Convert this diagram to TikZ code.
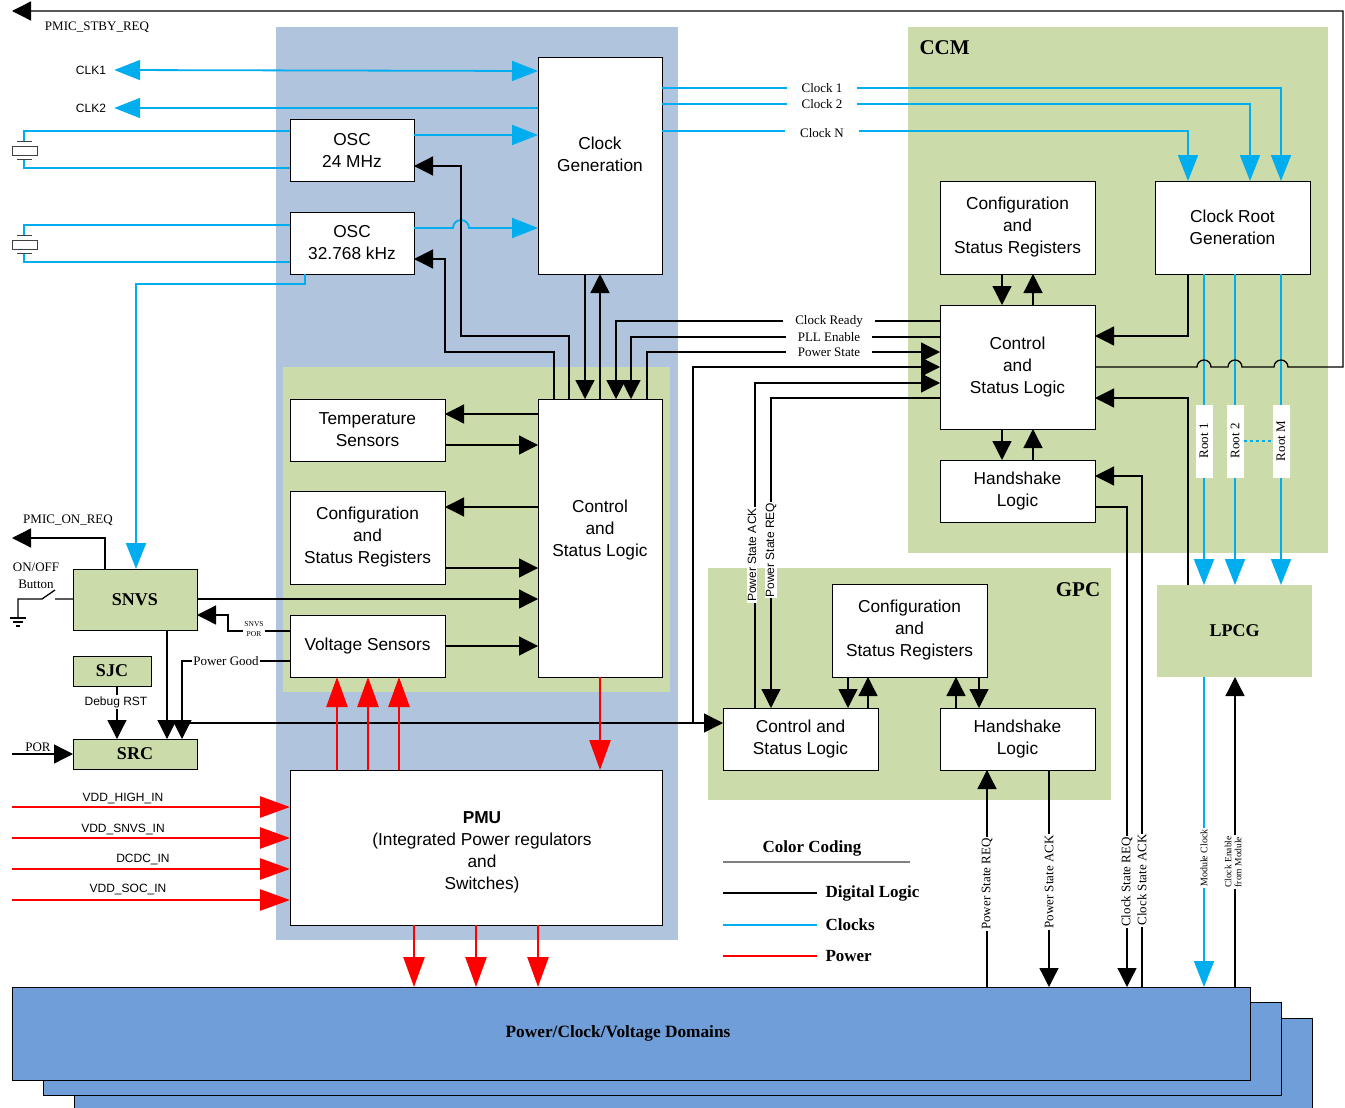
\documentclass[tikz,border=0pt]{standalone}
\usepackage{fontspec}
\setmainfont{Liberation Serif}
\setsansfont{Liberation Sans}
\usetikzlibrary{arrows.meta,positioning}

\definecolor{pmubg}{RGB}{176,196,222}
\definecolor{grnbg}{RGB}{204,219,170}
\definecolor{clkblue}{RGB}{0,174,239}
\definecolor{pwrred}{RGB}{255,0,0}
\definecolor{dombg}{RGB}{112,158,216}

\begin{document}
\begin{tikzpicture}[x=1pt,y=-1pt]
  \tikzset{btxt/.style = {align=center,inner sep=0pt,font=\sffamily\fontsize{17.3}{22}\selectfont}}
  \tikzset{blk/.style = {btxt,draw,fill=white,line width=0.8pt,anchor=north west,inner sep=2pt,outer sep=0pt}}
  \tikzset{gblk/.style = {blk,fill=grnbg,font=\rmfamily\bfseries\fontsize{18}{20}\selectfont}}
  \tikzset{sig/.style = {line width=1.3pt}}
  \tikzset{clk/.style = {color=clkblue,line width=1.8pt}}
  \tikzset{pwr/.style = {color=pwrred,line width=2.6pt}}
  \tikzset{lbl/.style = {font=\rmfamily\fontsize{13}{17}\selectfont,inner sep=1pt}}
  \tikzset{wlbl/.style = {lbl,fill=white}}
  \tikzset{slbl/.style = {font=\sffamily\fontsize{12}{14}\selectfont,inner sep=1pt}}
  \tikzset{%
  tipK/.tip={Triangle[length=19pt,width=19pt]},
  tipC/.tip={Triangle[length=26pt,width=20pt]},
  tipR/.tip={Triangle[length=30pt,width=21pt]},
}
  \useasboundingbox (0,0) rectangle (1345,1108);

  % panels
  \fill[pmubg] (276,27) rectangle (678,940);
  \fill[grnbg] (283,367) rectangle (670,692);
  \fill[grnbg] (908,27) rectangle (1328,553);
  \fill[grnbg] (708,568) rectangle (1111,800);

  % domains
  \foreach \d/\n in {2/dom3,1/dom2}
    \node[draw,fill=dombg,line width=0.8pt,anchor=north west,minimum width=1238pt,minimum height=93pt,inner sep=0pt,outer sep=0pt] (\n) at (12+31*\d,987+15.5*\d) {};
  \node[draw,fill=dombg,line width=0.8pt,anchor=north west,minimum width=1238pt,minimum height=93pt,inner sep=0pt,outer sep=0pt] (dom) at (12,987) {};
  \node[font=\rmfamily\bfseries\fontsize{17.3}{19}\selectfont] (domlbl) at (618,1033) {Power/Clock/Voltage Domains};

  % blocks
  \node[blk,minimum width=124pt,minimum height=217pt] (cg) at (538,57) {};
  \node[btxt] (cgtxt) at (600,154) {Clock\\Generation};
  \node[blk,minimum width=124pt,minimum height=62pt] (osc24) at (290,119) {OSC\\24 MHz};
  \node[blk,minimum width=124pt,minimum height=62pt] (osc32) at (290,212) {OSC\\32.768 kHz};
  \node[blk,minimum width=155pt,minimum height=62pt] (tmp) at (290,399) {Temperature\\Sensors};
  \node[blk,minimum width=155pt,minimum height=93pt] (lcfg) at (290,491) {Configuration\\and\\Status Registers};
  \node[blk,minimum width=155pt,minimum height=62pt] (vs) at (290,615) {Voltage Sensors};
  \node[blk,minimum width=124pt,minimum height=278pt] (lcl) at (538,399) {};
  \node[btxt] (lcltxt) at (600,530) {Control\\and\\Status Logic};
  \node[blk,minimum width=372pt,minimum height=155pt] (pmu) at (290,770) {};
  \node[btxt] (pmutxt) at (482,852) {\textbf{PMU}\\(Integrated Power regulators\\and\\Switches)};
  \node[blk,minimum width=155pt,minimum height=93pt] (ccfg) at (940,181) {Configuration\\and\\Status Registers};
  \node[blk,minimum width=155pt,minimum height=93pt] (crg) at (1155,181) {Clock Root\\Generation};
  \node[blk,minimum width=155pt,minimum height=124pt] (ccl) at (940,305) {Control\\and\\Status Logic};
  \node[blk,minimum width=155pt,minimum height=62pt] (chs) at (940,460) {Handshake\\Logic};
  \node[blk,minimum width=155pt,minimum height=93pt] (gcfg) at (832,584) {Configuration\\and\\Status Registers};
  \node[blk,minimum width=155pt,minimum height=62pt] (gcl) at (723,708) {Control and\\Status Logic};
  \node[blk,minimum width=155pt,minimum height=62pt] (ghs) at (940,708) {Handshake\\Logic};
  \node[gblk,minimum width=124pt,minimum height=61pt] (snvs) at (73,569) {SNVS};
  \node[gblk,minimum width=78pt,minimum height=30pt] (sjc) at (73,656) {SJC};
  \node[gblk,minimum width=124pt,minimum height=30pt] (src) at (73,739) {SRC};
  \node[gblk,draw=none,minimum width=155pt,minimum height=92pt] (lpcg) at (1157,585) {LPCG};

  \node[font=\rmfamily\bfseries\fontsize{21}{24}\selectfont,anchor=west] (ccmlbl) at (916,48) {CCM};
  \node[font=\rmfamily\bfseries\fontsize{21}{24}\selectfont] (gpclbl) at (1078,590) {GPC};

  % free ends
  \coordinate (stby) at (12,11);
  \coordinate (onreq) at (12,538);
  \coordinate (porin) at (12,754);
  \coordinate (pgj) at (182,723);
  \coordinate (gpj) at (693,723);

  % crystals
  \foreach \t/\o in {131/osc24,225/osc32} {
    \draw[clk] (\o.west |- 0,\t) -- (24,\t) -- (24,\t+10);
    \draw[clk] (\o.west |- 0,\t+37) -- (24,\t+37) -- (24,\t+28);
    \draw[line width=1pt,black!75] (17,\t+10) -- (32,\t+10) (17,\t+28) -- (32,\t+28) (12,\t+15) rectangle (37,\t+24);
  }

  % clocks
  \node[slbl] (clk1) at (91,70) {CLK1};
  \node[slbl] (clk2) at (91,108) {CLK2};
  \draw[clk,tipC-tipC] ([xshift=7pt]clk1.east) -- (cg.west |- 0,71);
  \draw[clk,-tipC] (cg.west |- 0,108) -- ([xshift=7pt]clk2.east);
  \draw[clk,-tipC] (osc24.east |- 0,135) -- (cg.west |- 0,135);
  \draw[clk,-tipC] (osc32.east |- 0,228) -- (453,228) arc[start angle=180,end angle=0,radius=8pt] -- (cg.west |- 0,228);
  \draw[clk,-tipC] (305,0 |- osc32.south) -- (305,284) -- (136,284) -- (136,0 |- snvs.north);
  \foreach \y/\x in {88/1281, 104/1250, 131/1188}
    \draw[clk,-tipC] (cg.east |- 0,\y) -- (\x,\y) -- (\x,0 |- crg.north);
  \foreach \x in {1204,1235,1281}
    \draw[clk,-tipC] (\x,0 |- crg.south) -- (\x,0 |- lpcg.north);
  \draw[clk,-tipC] (1204,0 |- lpcg.south) -- (1204,0 |- dom.north);

  % digital logic
  \draw[sig,-tipK] (ccl.east |- 0,367) -- (1197,367) arc[start angle=180,end angle=0,radius=7pt] -- (1228,367) arc[start angle=180,end angle=0,radius=7pt] -- (1274,367) arc[start angle=180,end angle=0,radius=7pt] -- (1343,367) -- (1343,11) -- (stby);
  \draw[sig,-tipK] (585,0 |- cg.south) -- (585,0 |- lcl.north);
  \draw[sig,-tipK] (600,0 |- lcl.north) -- (600,0 |- cg.south);
  \draw[sig,-tipK] (569,0 |- lcl.north) -- (569,336) -- (461,336) -- (461,166) -- (osc24.east |- 0,166);
  \draw[sig,-tipK] (554,0 |- lcl.north) -- (554,352) -- (445,352) -- (445,259) -- (osc32.east |- 0,259);
  \draw[sig,-tipK] (ccl.west |- 0,321) -- (616,321) -- (616,0 |- lcl.north);
  \draw[sig,-tipK] (ccl.west |- 0,337) -- (631,337) -- (631,0 |- lcl.north);
  \draw[sig,-tipK] (647,0 |- lcl.north) -- (647,352) -- (ccl.west |- 0,352);
  \foreach \from/\to/\y in {lcl.west/tmp.east/414, tmp.east/lcl.west/445, lcl.west/lcfg.east/507, lcfg.east/lcl.west/568, snvs.east/lcl.west/599, vs.east/lcl.west/646}
    \path[sig,-tipK] (\from |- 0,\y) edge (\to |- 0,\y);

  \draw[sig,-tipK] (105,0 |- snvs.north) -- (105,538) -- (onreq);
  \draw[sig] (snvs.west |- 0,599) -- (55,599) (55,590) -- (42,599) -- (18,599) -- (18,618);
  \draw[sig] (10,618) -- (26,618) (13,622) -- (23,622) (16,626) -- (20,626);
  \draw[sig,-tipK] (vs.west |- 0,631) -- (228,631) -- (228,615) -- (snvs.east |- 0,615);
  \draw[sig,-tipK] (vs.west |- 0,661) -- (182,661) -- (182,0 |- src.north);
  \draw[sig,-tipK] (167,0 |- snvs.south) -- (167,0 |- src.north);
  \draw[sig,-tipK] (117,0 |- sjc.south) -- (117,0 |- src.north);
  \draw[sig,-tipK] (porin) -- (src.west |- 0,754);
  \draw[sig,-tipK] (pgj) -- (gcl.west |- 0,723);
  \draw[sig,-tipK] (gpj) -- (693,367) -- (ccl.west |- 0,367);
  \draw[sig,-tipK] (755,0 |- gcl.north) -- (755,383) -- (ccl.west |- 0,383);
  \draw[sig,-tipK] (ccl.west |- 0,398) -- (771,398) -- (771,0 |- gcl.north);

  \foreach \x/\a/\b in {1002/ccfg.south/ccl.north, 1033/ccl.north/ccfg.south, 1002/ccl.south/chs.north, 1033/chs.north/ccl.south, 848/gcfg.south/gcl.north, 868/gcl.north/gcfg.south, 956/ghs.north/gcfg.south, 979/gcfg.south/ghs.north}
    \path[sig,-tipK] (\x,0 |- \a) edge (\x,0 |- \b);

  \draw[sig,-tipK] (1188,0 |- crg.south) -- (1188,336) -- (ccl.east |- 0,336);
  \draw[sig,-tipK] (1188,0 |- lpcg.north) -- (1188,398) -- (ccl.east |- 0,398);
  \draw[sig,-tipK] (chs.east |- 0,507) -- (1127,507) -- (1127,0 |- dom.north);
  \draw[sig,-tipK] (1142,0 |- dom.north) -- (1142,476) -- (chs.east |- 0,476);
  \draw[sig,-tipK] (987,0 |- dom.north) -- (987,0 |- ghs.south);
  \draw[sig,-tipK] (1049,0 |- ghs.south) -- (1049,0 |- dom.north);
  \draw[sig,-tipK] (1235,0 |- dom.north) -- (1235,0 |- lpcg.south);

  % power
  \draw[pwr,-tipR] (600,0 |- lcl.south) -- (600,0 |- pmu.north);
  \foreach \x in {337,368,399}
    \draw[pwr,-tipR] (\x,0 |- pmu.north) -- (\x,0 |- vs.south);
  \foreach \x in {414,476,538}
    \draw[pwr,-tipR] (\x,0 |- pmu.south) -- (\x,0 |- dom.north);
  \foreach \y/\i in {807/1,838/2,869/3,900/4} {
    \coordinate (in\i) at (12,\y);
    \draw[pwr,-tipR] (in\i) -- (pmu.west |- 0,\y);
  }
  \node[slbl] (vddhigh) at (123,798) {VDD\_HIGH\_IN};
  \node[slbl] (vddsnvs) at (123,829) {VDD\_SNVS\_IN};
  \node[slbl] (dcdc) at (143,859) {DCDC\_IN};
  \node[slbl] (vddsoc) at (128,889) {VDD\_SOC\_IN};

  % labels
  \node[lbl] (stbylbl) at (97,27) {PMIC\_STBY\_REQ};
  \node[lbl] (onreqlbl) at (68,520) {PMIC\_ON\_REQ};
  \node[lbl,align=center] (onoff) at (36,576) {ON/OFF\\Button};
  \node[lbl] (porlbl) at (38,747) {POR};
  \node[wlbl] (pglbl) at (226,661) {Power Good};
  \node[wlbl,font=\rmfamily\fontsize{7.5}{10}\selectfont,align=center] (spor) at (254,629) {SNVS\\POR};
  \node[slbl,fill=white] (dbg) at (116,702) {Debug RST};
  \foreach \y/\t/\n in {88/Clock 1/ck1, 104/Clock 2/ck2, 133/Clock N/ckn}
    \node[wlbl,inner xsep=15pt] (\n) at (822,\y) {\t};
  \foreach \y/\t/\n in {321/Clock Ready/crdy, 337/PLL Enable/pll, 352/Power State/pst}
    \node[wlbl,inner xsep=12pt] (\n) at (829,\y) {\t};
  \foreach \x/\t/\n in {1204/Root 1/r1, 1235/Root 2/r2, 1281/Root M/rM}
    \node[wlbl,rotate=90,minimum width=73pt,minimum height=17pt] (\n) at (\x,441) {\t};
  \draw[clk,dashed] (r2.south) -- (rM.north);
  \node[slbl,fill=white,rotate=90] (gack) at (752,555) {Power State ACK};
  \node[slbl,fill=white,rotate=90] (greq) at (771,550) {Power State REQ};
  \node[wlbl,rotate=90] (psreq) at (987,884) {Power State REQ};
  \node[wlbl,rotate=90] (psack) at (1049,882) {Power State ACK};
  \node[wlbl,rotate=90] (csreq) at (1127,882) {Clock State REQ};
  \node[wlbl,rotate=90] (csack) at (1142,880) {Clock State ACK};
  \node[wlbl,rotate=90,font=\rmfamily\fontsize{10}{11}\selectfont] (mclk) at (1204,858) {Module Clock};
  \node[wlbl,rotate=90,align=center,font=\rmfamily\fontsize{9.5}{10}\selectfont] (cen) at (1233,862) {Clock Enable\\from Module};

  % color coding
  \node[font=\rmfamily\bfseries\fontsize{17}{19}\selectfont] (legend) at (812,848) {Color Coding};
  \draw[gray,line width=1.2pt] (723,862) -- (910,862);
  \foreach \y/\c/\t in {893/black/Digital Logic, 925/clkblue/Clocks, 956/pwrred/Power} {
    \draw[color=\c,line width=1.8pt] (723,\y) -- (817,\y);
    \node[font=\rmfamily\bfseries\fontsize{17}{19}\selectfont,anchor=west] (lg\y) at (822,\y) {\t};
  }
\end{tikzpicture}
\end{document}
